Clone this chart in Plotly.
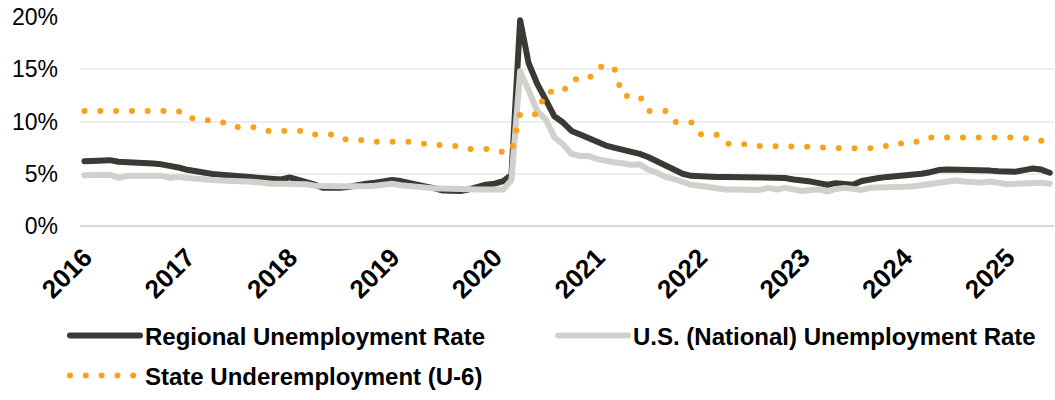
import numpy as np
import pandas as pd
import plotly.graph_objects as go

# Monthly observations, Jan 2016 - Jun 2025
months = pd.date_range("2016-01-01", "2025-06-01", freq="MS")

regional_rate = [
    6.2, 6.28, 6.33, 6.3, 6.15, 6.13, 6.12, 6.05, 5.98, 5.9, 5.78, 5.6,      # 2016
    5.38, 5.2, 5.1, 4.98, 4.9, 4.82, 4.7, 4.62, 4.55, 4.5, 4.48, 4.45,       # 2017
    4.65, 4.45, 4.2, 3.95, 3.65, 3.6, 3.65, 3.75, 3.95, 4.05, 4.15, 4.3,     # 2018
    4.4, 4.3, 4.15, 4.05, 3.9, 3.6, 3.4, 3.35, 3.35, 3.5, 3.75, 3.95,        # 2019
    4.05, 4.3, 4.9, 19.7, 15.6, 13.6, 12.1, 10.5, 9.9, 9.1, 8.75, 8.4,       # 2020
    7.95, 7.7, 7.5, 7.3, 7.2, 6.9, 6.6, 6.2, 5.7, 5.3, 5.0, 4.8,             # 2021
    4.72, 4.7, 4.7, 4.7, 4.7, 4.7, 4.7, 4.7, 4.7, 4.68, 4.6, 4.45,           # 2022
    4.4, 4.25, 4.1, 3.95, 4.1, 4.0, 3.95, 4.3, 4.5, 4.6, 4.7, 4.75,          # 2023
    4.85, 4.95, 5.0, 5.15, 5.35, 5.4, 5.4, 5.4, 5.3, 5.3, 5.3, 5.25,         # 2024
    5.25, 5.2, 5.35, 5.5, 5.4, 5.1,                                          # 2025
]

national_rate = [
    4.85, 4.9, 4.9, 4.9, 4.6, 4.8, 4.8, 4.8, 4.85, 4.8, 4.6, 4.7,            # 2016
    4.6, 4.5, 4.4, 4.4, 4.35, 4.35, 4.3, 4.25, 4.2, 4.1, 4.05, 4.05,         # 2017
    4.05, 4.1, 4.0, 3.85, 3.8, 3.85, 3.8, 3.8, 3.75, 3.8, 3.85, 3.95,        # 2018
    4.05, 3.9, 3.8, 3.7, 3.65, 3.6, 3.6, 3.55, 3.5, 3.55, 3.5, 3.5,          # 2019
    3.5, 3.5, 4.4, 14.8, 13.0, 11.0, 10.2, 8.5, 7.8, 6.9, 6.7, 6.7,          # 2020
    6.4, 6.2, 6.1, 6.0, 5.85, 5.9, 5.4, 5.1, 4.7, 4.5, 4.2, 3.95,            # 2021
    3.85, 3.7, 3.55, 3.5, 3.5, 3.5, 3.5, 3.45, 3.65, 3.5, 3.65, 3.45,        # 2022
    3.35, 3.45, 3.5, 3.3, 3.55, 3.65, 3.5, 3.45, 3.65, 3.65, 3.7, 3.7,       # 2023
    3.75, 3.8, 3.9, 3.95, 4.05, 4.15, 4.35, 4.25, 4.15, 4.15, 4.25, 4.15,    # 2024
    4.0, 4.05, 4.1, 4.15, 4.15, 4.05,                                        # 2025
]

# State U-6 is published quarterly; each quarter's figure covers its three months
u6_quarterly = [
    11.0, 11.0, 11.0, 11.0,     # 2016
    10.3, 9.9, 9.45, 9.1,       # 2017
    9.1, 8.75, 8.3, 8.06,       # 2018
    8.06, 7.87, 7.66, 7.38,     # 2019
    7.1, 10.7, 12.85, 14.05,    # 2020
    15.23, 12.45, 11.0, 9.95,   # 2021
    8.77, 7.87, 7.66, 7.66,     # 2022
    7.56, 7.45, 7.44, 7.65,     # 2023
    8.06, 8.46, 8.56, 8.56,     # 2024
    8.47, 8.15,                 # 2025
]
u6_monthly = np.repeat(u6_quarterly, 3)

year_ticks = pd.date_range("2016-01-01", "2025-01-01", freq="YS")
year_labels = [str(d.year) for d in year_ticks]
pct_ticks = [0, 5, 10, 15, 20]
pct_labels = ["0%", "5%", "10%", "15%", "20%"]

FONT = "Liberation Sans, Arial, sans-serif"

fig = go.Figure()
fig.add_trace(go.Scatter(
    x=months, y=regional_rate, mode="lines",
    name="Regional Unemployment Rate",
    line=dict(color="#3C3834", width=6),
    legend="legend",
))
fig.add_trace(go.Scatter(
    x=months, y=national_rate, mode="lines",
    name="U.S. (National) Unemployment Rate",
    line=dict(color="#D0D0CC", width=6),
    legend="legend3",
))
fig.add_trace(go.Scatter(
    x=months, y=u6_monthly, mode="lines",
    name="State Underemployment (U-6)",
    line=dict(color="#FBA11B", width=6, dash="0px,15.8px"),
    legend="legend2",
))

legend_common = dict(
    orientation="h",
    font=dict(family=FONT, size=24, color="#000000", weight="bold"),
    bgcolor="rgba(0,0,0,0)",
    itemwidth=70,
    xanchor="left",
    yanchor="middle",
)

fig.update_layout(
    width=1055, height=400,
    margin=dict(l=80, r=1, t=17, b=168),
    paper_bgcolor="white",
    plot_bgcolor="white",
    showlegend=True,
    legend=dict(x=-0.0154, y=-0.526, **legend_common),
    legend3=dict(x=0.4856, y=-0.526, **legend_common),
    legend2=dict(x=-0.0154, y=-0.717, **legend_common),
    xaxis=dict(
        type="date",
        range=["2015-12-16", "2025-06-16"],
        tickmode="array",
        tickvals=year_ticks,
        ticktext=year_labels,
        tickangle=-45,
        tickfont=dict(family=FONT, size=26, color="#000000", weight="bold"),
        showgrid=False,
        showline=False,
        zeroline=False,
        ticks="",
        ticklabelstandoff=10,
    ),
    yaxis=dict(
        range=[0, 20],
        tickmode="array",
        tickvals=pct_ticks,
        ticktext=pct_labels,
        tickfont=dict(family=FONT, size=23, color="#000000"),
        showgrid=True,
        gridcolor="#EEEEEE",
        gridwidth=1.5,
        zeroline=True,
        zerolinecolor="#D9D9D9",
        zerolinewidth=2,
        showline=False,
        ticks="",
        ticklabelstandoff=21,
    ),
)

# Round line ends/joins so the zero-length dashes show as round dots
post = """
var gd = document.getElementById('{plot_id}');
function roundCaps(){
  gd.querySelectorAll('.scatterlayer .js-line, .legendlines path').forEach(function(p){
    p.style.strokeLinecap = 'round';
    p.style.strokeLinejoin = 'round';
  });
}
roundCaps();
gd.on('plotly_afterplot', roundCaps);
"""

fig.write_html("out.html", post_script=post)
